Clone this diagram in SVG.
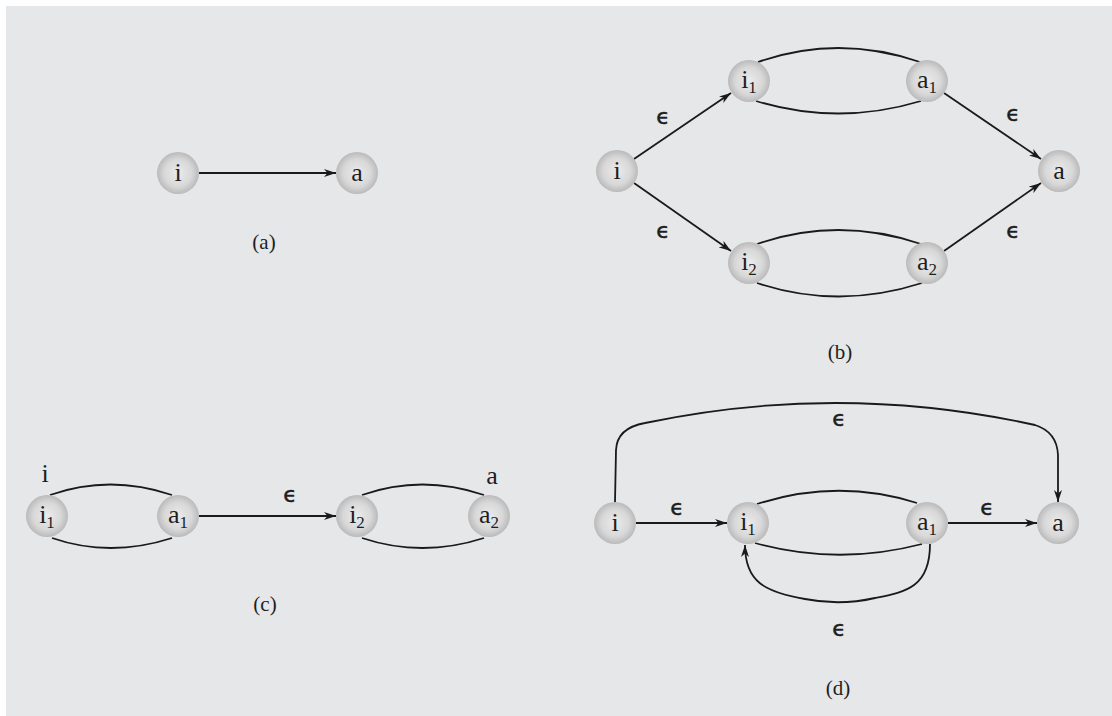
<svg xmlns="http://www.w3.org/2000/svg" width="1112" height="716" viewBox="0 0 1112 716">
<defs>
<radialGradient id="g" cx="50%" cy="50%" r="50%">
<stop offset="0" stop-color="#ebebeb"/>
<stop offset="0.65" stop-color="#d8d8d8"/>
<stop offset="1" stop-color="#bababa"/>
</radialGradient>
<marker id="ah" markerWidth="13" markerHeight="9" refX="12" refY="4.5" orient="auto" markerUnits="userSpaceOnUse">
<path d="M0,0.5 L12,4.5 L0,8.5 L3.5,4.5 z" fill="#1a1a1a"/>
</marker>
<style>
.n{fill:url(#g)}
.t{font-family:"Liberation Serif","Times New Roman",serif;font-size:26px;fill:#1e1e1e;text-anchor:middle}
.s{font-size:17px}
.e{font-family:"DejaVu Sans","Liberation Sans",sans-serif;font-size:22px;fill:#1e1e1e;stroke:#1e1e1e;stroke-width:0.5;text-anchor:middle}
.cap{font-family:"Liberation Serif","Times New Roman",serif;font-size:21px;fill:#1e1e1e;text-anchor:middle}
.c{fill:none;stroke:#1a1a1a;stroke-width:1.8}
.a{marker-end:url(#ah)}
</style>
</defs>
<rect x="0" y="0" width="1112" height="716" fill="#ffffff"/>
<rect x="6" y="6" width="1106" height="710" fill="#e6e7e9"/>

<g id="connectors">
<!-- (a) -->
<path class="c a" d="M199,173 L336,173"/>
<!-- (b) -->
<path class="c a" d="M634,159 L731,93"/>
<path class="c a" d="M634,183 L731,251"/>
<path class="c a" d="M944,93 L1041,159"/>
<path class="c a" d="M944,251 L1041,183"/>
<path class="c" d="M758,62 Q838,34 920,62"/>
<path class="c" d="M756,101 Q838,126 921,101"/>
<path class="c" d="M757,244 Q838,216 921,244"/>
<path class="c" d="M757,283 Q838,310 922,283"/>
<!-- (c) -->
<path class="c a" d="M199,516 L336,516"/>
<path class="c" d="M50,495 Q110,474 172,495"/>
<path class="c" d="M52,538 Q110,558 172,538"/>
<path class="c" d="M362,495 Q422,474 484,495"/>
<path class="c" d="M362,538 Q422,558 484,538"/>
<!-- (d) -->
<path class="c a" d="M636,523 L727,523"/>
<path class="c a" d="M948,523 L1037,523"/>
<path class="c" d="M757,504 Q838,478 917,503"/>
<path class="c" d="M755,543 Q838,566 922,544"/>
<path class="c a" d="M615,502 L616,450 Q617,428 645,423 Q840,382 1035,425 Q1057,432 1058,455 L1058,502"/>
<path class="c a" d="M930,544 C930,588 905,592 875,598 Q840,606 805,599 C765,592 745,582 745,545"/>
</g>

<g id="node-a-i"><circle class="n" cx="178" cy="173" r="21"/><text class="t" x="178" y="181">i</text></g>
<g id="node-a-a"><circle class="n" cx="357" cy="173" r="21"/><text class="t" x="357" y="181">a</text></g>

<g id="node-b-i"><circle class="n" cx="617" cy="171" r="21"/><text class="t" x="617" y="179">i</text></g>
<g id="node-b-i1"><circle class="n" cx="749" cy="81" r="21"/><text class="t" x="749" y="88"><tspan>i</tspan><tspan class="s" dy="5">1</tspan></text></g>
<g id="node-b-a1"><circle class="n" cx="927" cy="81" r="21"/><text class="t" x="927" y="88"><tspan>a</tspan><tspan class="s" dy="5">1</tspan></text></g>
<g id="node-b-i2"><circle class="n" cx="749" cy="263" r="21"/><text class="t" x="749" y="270"><tspan>i</tspan><tspan class="s" dy="5">2</tspan></text></g>
<g id="node-b-a2"><circle class="n" cx="927" cy="263" r="21"/><text class="t" x="927" y="270"><tspan>a</tspan><tspan class="s" dy="5">2</tspan></text></g>
<g id="node-b-a"><circle class="n" cx="1059" cy="171" r="21"/><text class="t" x="1059" y="179">a</text></g>

<g id="node-c-i1"><circle class="n" cx="47" cy="516" r="21"/><text class="t" x="47" y="523"><tspan>i</tspan><tspan class="s" dy="5">1</tspan></text></g>
<g id="node-c-a1"><circle class="n" cx="178" cy="516" r="21"/><text class="t" x="178" y="523"><tspan>a</tspan><tspan class="s" dy="5">1</tspan></text></g>
<g id="node-c-i2"><circle class="n" cx="357" cy="516" r="21"/><text class="t" x="357" y="523"><tspan>i</tspan><tspan class="s" dy="5">2</tspan></text></g>
<g id="node-c-a2"><circle class="n" cx="489" cy="516" r="21"/><text class="t" x="489" y="523"><tspan>a</tspan><tspan class="s" dy="5">2</tspan></text></g>

<g id="node-d-i"><circle class="n" cx="615" cy="523" r="21"/><text class="t" x="615" y="531">i</text></g>
<g id="node-d-i1"><circle class="n" cx="748" cy="523" r="21"/><text class="t" x="748" y="530"><tspan>i</tspan><tspan class="s" dy="5">1</tspan></text></g>
<g id="node-d-a1"><circle class="n" cx="927" cy="523" r="21"/><text class="t" x="927" y="530"><tspan>a</tspan><tspan class="s" dy="5">1</tspan></text></g>
<g id="node-d-a"><circle class="n" cx="1058" cy="523" r="21"/><text class="t" x="1058" y="531">a</text></g>

<g id="labels">
<text class="e" x="663" y="124">ϵ</text>
<text class="e" x="1013" y="121">ϵ</text>
<text class="e" x="663" y="238">ϵ</text>
<text class="e" x="1013" y="238">ϵ</text>
<text class="e" x="290" y="502">ϵ</text>
<text class="t" x="45" y="482">i</text>
<text class="t" x="492" y="484">a</text>
<text class="e" x="677" y="515">ϵ</text>
<text class="e" x="987" y="515">ϵ</text>
<text class="e" x="839" y="426">ϵ</text>
<text class="e" x="839" y="636">ϵ</text>
<text class="cap" x="264" y="249">(a)</text>
<text class="cap" x="840" y="359">(b)</text>
<text class="cap" x="265" y="611">(c)</text>
<text class="cap" x="838" y="695">(d)</text>
</g>
</svg>
